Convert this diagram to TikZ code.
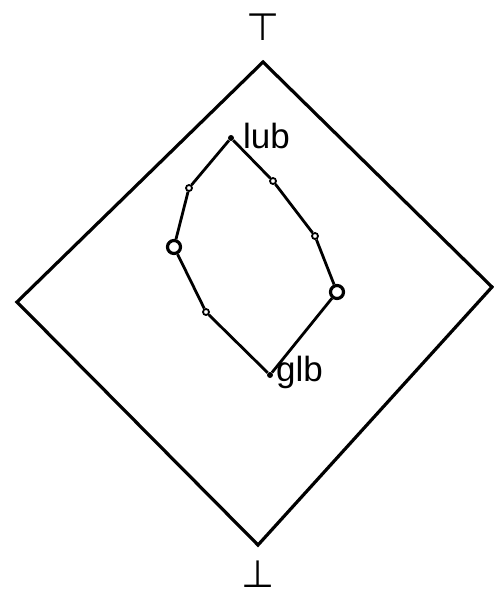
\documentclass[tikz,border=0pt]{standalone}
\usepackage{fontspec}
\setmainfont{Liberation Sans}
\newfontfamily\symfont{DejaVu Sans}
\begin{document}
\begin{tikzpicture}[x=1pt,y=-1pt,
  edge/.style={line width=2.8pt,line join=round},
  frame/.style={line width=3.2pt,line join=miter},
  dot/.style={circle,draw,fill=white,inner sep=0pt,minimum size=6pt,line width=1.8pt},
  bigdot/.style={circle,draw,fill=white,inner sep=0pt,minimum size=13pt,line width=3.2pt},
  vtx/.style={circle,fill,inner sep=0pt,minimum size=6pt},
  lbl/.style={font=\fontsize{35}{38}\selectfont,inner sep=0pt},
  sym/.style={font=\symfont\fontsize{38}{42}\selectfont,inner sep=0pt}]
\useasboundingbox (0,0) rectangle (494,595);
% outer diamond
\coordinate (top) at (263,62);
\coordinate (left) at (17,302);
\coordinate (bot) at (258,545);
\coordinate (right) at (492,287);
\draw[frame] (top) -- (right) -- (bot) -- (left) -- cycle;
\node[sym] (T) at (263,27) {⊤};
\node[sym] (B) at (258,574) {⊥};
% inner lattice
\node[vtx] (lub) at (231,138) {};
\node[dot] (a1) at (189,188) {};
\node[bigdot] (a2) at (174,247) {};
\node[dot] (a3) at (206,312) {};
\node[vtx] (glb) at (270,375) {};
\node[bigdot] (b3) at (337,292) {};
\node[dot] (b2) at (315,236) {};
\node[dot] (b1) at (273,181) {};
\draw[edge] (lub) -- (a1) -- (a2) -- (a3) -- (glb) -- (b3) -- (b2) -- (b1) -- (lub);
\node[lbl,anchor=south west] (lubl) at (243,149) {lub};
\node[lbl,anchor=north west] (glbl) at (276,356) {glb};
\end{tikzpicture}
\end{document}
